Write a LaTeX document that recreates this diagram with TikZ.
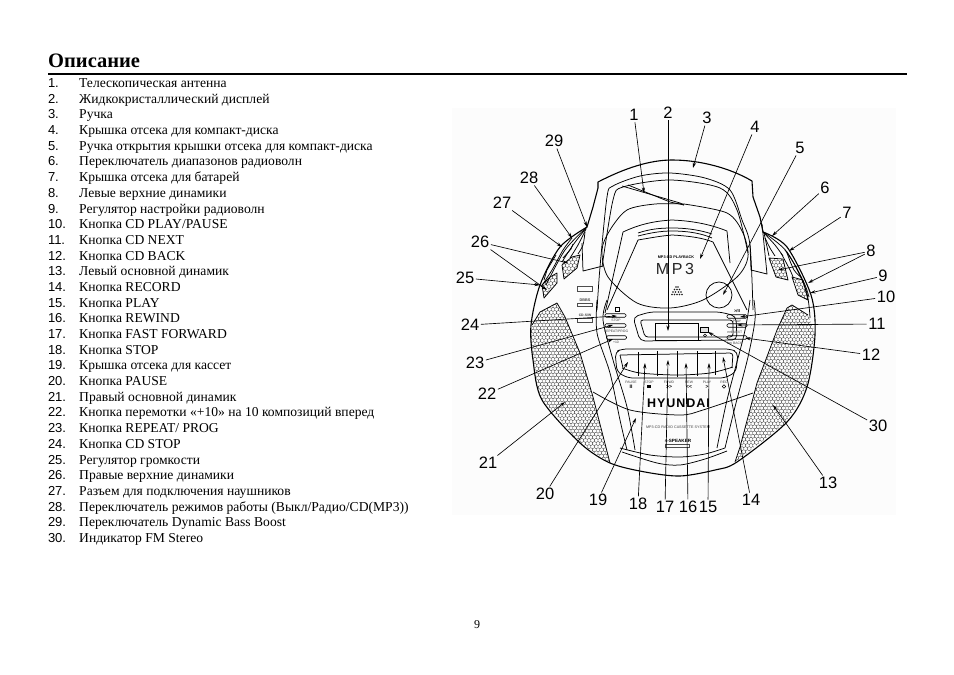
\documentclass[tikz,border=0pt]{standalone}
\usepackage{fontspec}
\setmainfont{Liberation Serif}
\newfontfamily\numfont{Liberation Sans}
\usetikzlibrary{arrows.meta,positioning}

\newcommand{\hexmesh}[4]{
	\foreach \r in {0,...,#4}{
		\foreach \c in {0,...,#3}{
			\pgfmathsetmacro\hx{#1+\c*3.6+mod(\r,2)*1.8}
			\pgfmathsetmacro\hy{#2+\r*3.12}
			\draw[meshline] ({\hx-1.8},{\hy-1.04}) -- (\hx,{\hy-2.08}) -- ({\hx+1.8},{\hy-1.04}) -- ({\hx+1.8},{\hy+1.04});
		}
	}
}

\begin{document}
\begin{tikzpicture}[x=1pt,y=-1pt,on grid,node distance=15.69pt,>={Stealth[length=5.5pt,width=3.2pt]},
	numlbl/.style={font=\numfont\fontsize{13}{14}\selectfont,inner sep=0pt,text width=24pt,align=left,text height=9pt,text depth=2pt},
	itemlbl/.style={font=\fontsize{13.6}{14}\selectfont,inner sep=0pt,anchor=west,text height=9pt,text depth=2pt},
	callout/.style={font=\numfont\fontsize{16.5}{18}\selectfont,inner sep=1.5pt},
	ptr/.style={->,line width=0.65pt},
	body/.style={line width=0.75pt,line join=round},
	thick body/.style={line width=1.1pt,line join=round},
	meshline/.style={line width=0.32pt,black!80},
	bar/.style={draw,line width=0.65pt,rounded corners=1.2pt},
	tiny/.style={font=\numfont\fontsize{3.4}{4}\selectfont,inner sep=0pt,black!75}]
	\useasboundingbox (0,0) rectangle (954,675);
	\fill[black!1] (452,108) rectangle (896,515);

	% heading
	\node[font=\bfseries\fontsize{20.5}{22}\selectfont,inner sep=0pt,anchor=base west] (title) at (48,67.5) {Описание};
	\coordinate (ruleL) at (48,74);
	\coordinate (ruleR) at (907,74);
	\draw[line width=1.8pt] (ruleL) -- (ruleR);

	% list
	\node[numlbl] (n1) at (60,84) {1.};
	\node[numlbl] (n2) [below=of n1] {2.};
	\node[numlbl] (n3) [below=of n2] {3.};
	\node[numlbl] (n4) [below=of n3] {4.};
	\node[numlbl] (n5) [below=of n4] {5.};
	\node[numlbl] (n6) [below=of n5] {6.};
	\node[numlbl] (n7) [below=of n6] {7.};
	\node[numlbl] (n8) [below=of n7] {8.};
	\node[numlbl] (n9) [below=of n8] {9.};
	\node[numlbl] (n10) [below=of n9] {10.};
	\node[numlbl] (n11) [below=of n10] {11.};
	\node[numlbl] (n12) [below=of n11] {12.};
	\node[numlbl] (n13) [below=of n12] {13.};
	\node[numlbl] (n14) [below=of n13] {14.};
	\node[numlbl] (n15) [below=of n14] {15.};
	\node[numlbl] (n16) [below=of n15] {16.};
	\node[numlbl] (n17) [below=of n16] {17.};
	\node[numlbl] (n18) [below=of n17] {18.};
	\node[numlbl] (n19) [below=of n18] {19.};
	\node[numlbl] (n20) [below=of n19] {20.};
	\node[numlbl] (n21) [below=of n20] {21.};
	\node[numlbl] (n22) [below=of n21] {22.};
	\node[numlbl] (n23) [below=of n22] {23.};
	\node[numlbl] (n24) [below=of n23] {24.};
	\node[numlbl] (n25) [below=of n24] {25.};
	\node[numlbl] (n26) [below=of n25] {26.};
	\node[numlbl] (n27) [below=of n26] {27.};
	\node[numlbl] (n28) [below=of n27] {28.};
	\node[numlbl] (n29) [below=of n28] {29.};
	\node[numlbl] (n30) [below=of n29] {30.};
	\node (t1) [right=19pt of n1,itemlbl] {Телескопическая антенна};
	\node (t2) [right=19pt of n2,itemlbl] {Жидкокристаллический дисплей};
	\node (t3) [right=19pt of n3,itemlbl] {Ручка};
	\node (t4) [right=19pt of n4,itemlbl] {Крышка отсека для компакт-диска};
	\node (t5) [right=19pt of n5,itemlbl] {Ручка открытия крышки отсека для компакт-диска};
	\node (t6) [right=19pt of n6,itemlbl] {Переключатель диапазонов радиоволн};
	\node (t7) [right=19pt of n7,itemlbl] {Крышка отсека для батарей};
	\node (t8) [right=19pt of n8,itemlbl] {Левые верхние динамики};
	\node (t9) [right=19pt of n9,itemlbl] {Регулятор настройки радиоволн};
	\node (t10) [right=19pt of n10,itemlbl] {Кнопка CD PLAY/PAUSE};
	\node (t11) [right=19pt of n11,itemlbl] {Кнопка CD NEXT};
	\node (t12) [right=19pt of n12,itemlbl] {Кнопка CD BACK};
	\node (t13) [right=19pt of n13,itemlbl] {Левый основной динамик};
	\node (t14) [right=19pt of n14,itemlbl] {Кнопка RECORD};
	\node (t15) [right=19pt of n15,itemlbl] {Кнопка PLAY};
	\node (t16) [right=19pt of n16,itemlbl] {Кнопка REWIND};
	\node (t17) [right=19pt of n17,itemlbl] {Кнопка FAST FORWARD};
	\node (t18) [right=19pt of n18,itemlbl] {Кнопка STOP};
	\node (t19) [right=19pt of n19,itemlbl] {Крышка отсека для кассет};
	\node (t20) [right=19pt of n20,itemlbl] {Кнопка PAUSE};
	\node (t21) [right=19pt of n21,itemlbl] {Правый основной динамик};
	\node (t22) [right=19pt of n22,itemlbl] {Кнопка перемотки «+10» на 10 композиций вперед};
	\node (t23) [right=19pt of n23,itemlbl] {Кнопка REPEAT/ PROG};
	\node (t24) [right=19pt of n24,itemlbl] {Кнопка CD STOP};
	\node (t25) [right=19pt of n25,itemlbl] {Регулятор громкости};
	\node (t26) [right=19pt of n26,itemlbl] {Правые верхние динамики};
	\node (t27) [right=19pt of n27,itemlbl] {Разъем для подключения наушников};
	\node (t28) [right=19pt of n28,itemlbl] {Переключатель режимов работы (Выкл/Радио/CD(MP3))};
	\node (t29) [right=19pt of n29,itemlbl] {Переключатель Dynamic Bass Boost};
	\node (t30) [right=19pt of n30,itemlbl] {Индикатор FM Stereo};

	\node[font=\fontsize{12}{14}\selectfont,inner sep=0pt] (pagenum) at (477,625) {9};

	% speakers
	\begin{scope}
		\clip (557,303) -- (565,317) -- (580,353) -- (593,397) -- (610,463) -- (580,443) -- (540,397) -- (530,340) -- (532,325) -- (540,312) -- cycle;
		\hexmesh{526}{300}{24}{53}
	\end{scope}
	\begin{scope}
		\clip (787,308) -- (792,305) -- (808,315) -- (815,333) -- (807,387) -- (787,422) -- (735,462) -- (740,447) -- (757,383) -- (777,330) -- cycle;
		\hexmesh{733}{302}{24}{53}
	\end{scope}
	\begin{scope}
		\clip (562,265) -- (572,257) -- (580,255) -- (577,268) -- (564,279) -- cycle;
		\hexmesh{560}{253}{6}{9}
	\end{scope}
	\begin{scope}
		\clip (542,285) -- (550,277) -- (557,273) -- (557,283) -- (544,298) -- cycle;
		\hexmesh{540}{271}{6}{9}
	\end{scope}
	\begin{scope}
		\clip (769,258) -- (783,259) -- (788,280) -- (776,277) -- cycle;
		\hexmesh{767}{256}{7}{9}
	\end{scope}
	\begin{scope}
		\clip (792,277) -- (803,280) -- (808,300) -- (798,295) -- cycle;
		\hexmesh{790}{275}{6}{9}
	\end{scope}
	\draw[body] (557,303) -- (565,317) -- (580,353) -- (593,397) -- (610,463);
	\draw[body] (557,303) -- (540,312) -- (532,325);
	\draw[body] (787,308) -- (792,305) -- (808,315);
	\draw[body] (787,308) -- (777,330) -- (757,383) -- (740,447) -- (735,462);
	\draw[body] (562,265) -- (572,257) -- (580,255) -- (577,268) -- (564,279) -- cycle;
	\draw[body] (542,285) -- (550,277) -- (557,273) -- (557,283) -- (544,298) -- cycle;
	\draw[body] (769,258) -- (783,259) -- (788,280) -- (776,277) -- cycle;
	\draw[body] (792,277) -- (803,280) -- (808,300) -- (798,295) -- cycle;

	% outer body
	\draw[thick body] plot[smooth] coordinates {(587,227) (560,247) (540,285) (531,325) (533,360) (542,400) (580,443) (610,463) (645,472) (680,476) (715,470) (737,462) (787,422) (807,387) (815,335) (811,295) (787,247) (763,232)};
	\draw[body] plot[smooth] coordinates {(587,227) (565,250) (546,285)};
	\draw[body] plot[smooth] coordinates {(763,232) (787,252) (806,290) (810,318)};
	% top grilles
	\draw[body] plot[smooth] coordinates {(587,227) (573,245) (562,262)};
	\draw[body] plot[smooth] coordinates {(586,229) (578,245) (570,258)};
	\draw[body] plot[smooth] coordinates {(585,232) (583,245) (578,254)};
	\draw[body] plot[smooth] coordinates {(572,238) (563,250) (552,270) (541,287)};
	\draw[body] (573,244) -- (571,249) -- (563,258);
	\draw[body] (556,255) -- (547,270) -- (544,280);
	\draw[body] plot[smooth] coordinates {(763,232) (775,245) (783,256)};
	\draw[body] plot[smooth] coordinates {(765,238) (770,248) (775,256)};
	\draw[body] (764,233) -- (769,256);
	\draw[body] plot[smooth] coordinates {(785,250) (795,265) (805,285) (809,297)};
	\draw[body] plot[smooth] coordinates {(787,253) (794,270) (802,278)};
	\draw[body] plot[smooth] coordinates {(781,253) (790,270) (793,277)};

	% handle
	\draw[thick body] (587,227) -- (593,207) -- (598,188) -- (598,182) .. controls (625,168) and (650,160) .. (672,160) .. controls (700,160) and (730,168) .. (752,181) -- (753,197) -- (760,217) -- (763,232);
	\draw[body] plot[smooth] coordinates {(597,310) (600,267) (607,197) (613,186) (640,176) (670,173) (705,178) (730,190) (742,220) (750,245) (753,310)};
	\draw[body] plot[smooth] coordinates {(602,267) (613,200) (623,187) (670,180) (720,188) (737,210) (748,253)};

	% left and right tabs beside the lid
	\draw[body] (582,243) -- (583,271) -- (603,266);
	\draw[body] (750,245) -- (751,270) -- (767,274) -- (762,224);

	% antenna
	\coordinate (antA) at (622,186);
	\coordinate (antB) at (680,203);
	\coordinate (antC) at (684,205);
	\draw[body] (antA) -- (antB) -- (antC);
	\draw[body] (628,185) -- (670,202) -- (684,205);

	% cd lid
	\draw[body] plot[smooth] coordinates {(684,204) (655,204) (627,210) (610,230) (602,250) (608,277) (637,303) (670,308) (703,300) (737,277) (748,257) (743,233) (727,213) (684,204)};
	\draw[body] (605,313) -- (623,232) .. controls (640,224) and (655,221) .. (672,220) .. controls (695,221) and (712,225) .. (727,231) -- (730,263);
	\draw[body] (607,310) -- (638,240) .. controls (650,238) and (660,236) .. (672,235) .. controls (690,236) and (703,238) .. (713,242) -- (747,310);
	\draw[body] (638,236) .. controls (650,233) and (660,231) .. (672,231) .. controls (690,231) and (703,234) .. (712,238);
	\draw[body] (638,233) .. controls (650,229) and (660,228) .. (672,228) .. controls (690,228) and (703,231) .. (712,234);
	\node[circle,draw,line width=0.75pt,minimum size=26pt,inner sep=0pt] (cdknob) at (719,295) {};
	\node[font=\numfont\bfseries\fontsize{3.8}{5}\selectfont,inner sep=0pt] (cdtag) at (676,257) {MP3-CD PLAYBACK};
	\node[font=\numfont\fontsize{16}{18}\selectfont,inner sep=0pt,black!85] (mp3tag) at (675,269) {M\,P\,3};
	\foreach \dx/\dy in {-1/-5,1/-5,-2.5/-2.5,0/-2.5,2.5/-2.5,-4/0,-1.5/0,1.5/0,4/0,-5/2.5,-2.5/2.5,0/2.5,2.5/2.5,5/2.5}
		\fill[black!90] (677+\dx,292+\dy) circle (0.9pt);

	% lower body lines
	\draw[body] plot[smooth] coordinates {(597,300) (597,333) (610,373) (620,420) (627,450)};
	\draw[body] plot[smooth] coordinates {(607,300) (603,320) (613,360) (627,407) (635,450)};
	\draw[body] plot[smooth] coordinates {(750,300) (747,320) (742,343) (727,400) (717,448)};
	\draw[body] plot[smooth] coordinates {(754,300) (755,320) (748,357) (735,407) (725,448)};
	\draw[body] plot[smooth] coordinates {(593,392) (630,410) (680,415) (703,410) (753,393)};
	\draw[body] plot[smooth] coordinates {(620,448) (650,455) (680,457) (705,454) (725,448)};
	\draw[body] plot[smooth] coordinates {(622,452) (657,463) (680,465) (705,459) (727,451)};

	% lcd frame
	\draw[body,rounded corners=5pt] (633,317) -- (650,312) -- (720,312) -- (736,316) -- (737,340) -- (640,341) -- cycle;
	\draw[body,rounded corners=3pt] (640,320) -- (733,320) -- (733,337) -- (645,337) -- cycle;
	\node[draw,line width=0.75pt,minimum width=43pt,minimum height=17pt,inner sep=0pt] (lcd) at (676.5,331.5) {};
	\node[draw,line width=0.6pt,fill=black!12,minimum width=8pt,minimum height=5pt,inner sep=0pt] (fmbox) at (704,329.5) {};
	\node[circle,draw,line width=0.5pt,minimum size=3pt,inner sep=0pt] (fmled) at (705,335.5) {};

	% tape door
	\draw[body,rounded corners=5pt] (615,352) -- (622,349) -- (730,349) -- (738,352) -- (736,372) -- (725,378) -- (628,378) -- (617,372) -- cycle;
	\draw[body,rounded corners=3pt] (620,355) -- (733,353) -- (732,368);
	\draw[body,rounded corners=3pt] (620,355) -- (623,368);
	\draw[body] plot[smooth] coordinates {(622,368) (640,373) (677,375) (710,373) (733,367)};
	\coordinate (d1t) at (638,352);
	\coordinate (d1b) at (638,376);
	\coordinate (d2t) at (657,351);
	\coordinate (d2b) at (657,376);
	\coordinate (d3t) at (677,351);
	\coordinate (d3b) at (677,377);
	\coordinate (d4t) at (697,351);
	\coordinate (d4b) at (697,376);
	\coordinate (d5t) at (715,351);
	\coordinate (d5b) at (715,375);
	\draw[body] (d1t) -- (d1b) (d2t) -- (d2b) (d3t) -- (d3b) (d4t) -- (d4b) (d5t) -- (d5b);
	\node[tiny] (kpause) at (631,382) {PAUSE};
	\node[tiny] (kstop) at (649,382) {STOP};
	\node[tiny] (kfwd) at (669,382) {F.FWD};
	\node[tiny] (krew) at (689,382) {REW};
	\node[tiny] (kplay) at (707,382) {PLAY};
	\node[tiny] (krec) at (724,382) {REC};
	\node[tiny,font=\numfont\bfseries\fontsize{5}{5}\selectfont,black] (ppause) at (631,386.5) {II};
	\node[fill=black,minimum width=3.2pt,minimum height=2.6pt,inner sep=0pt] (pstop) at (649,386.5) {};
	\node[tiny,font=\numfont\bfseries\fontsize{5}{5}\selectfont,black] (pfwd) at (669,386.5) {>>};
	\node[tiny,font=\numfont\bfseries\fontsize{5}{5}\selectfont,black] (prew) at (689,386.5) {<<};
	\node[tiny,font=\numfont\bfseries\fontsize{5}{5}\selectfont,black] (pplay) at (707,386.5) {>};
	\node[circle,draw,line width=0.6pt,minimum size=3.5pt,inner sep=0pt] (prec) at (724,386.5) {};

	% buttons
	\node[bar,minimum width=21pt,minimum height=3.4pt,inner sep=0pt] (bstop) at (615.5,315.5) {};
	\node[bar,minimum width=21pt,minimum height=3.4pt,inner sep=0pt] (brep) at (615.5,325.5) {};
	\node[bar,minimum width=20pt,minimum height=3.4pt,inner sep=0pt] (bten) at (616.5,337.5) {};
	\node[bar,minimum width=20pt,minimum height=3.4pt,inner sep=0pt] (bplay) at (737,316.5) {};
	\node[bar,minimum width=20pt,minimum height=3.4pt,inner sep=0pt] (bnext) at (737,325.5) {};
	\node[bar,minimum width=20pt,minimum height=3.4pt,inner sep=0pt] (bback) at (737,337.5) {};
	\node[draw,line width=0.6pt,minimum size=3.6pt,inner sep=0pt] (ksq) at (617,309) {};
	\node[tiny] (lstop) at (616,320.5) {STOP};
	\node[tiny] (lrep) at (616,331) {REPEAT/PROG};
	\node[tiny] (lten) at (616,342.5) {+10};
	\node[tiny,font=\numfont\bfseries\fontsize{4.2}{5}\selectfont,black] (lpl) at (737,311.5) {>/II};
	\node[tiny] (lpp) at (737,321) {PLAY};
	\node[tiny,anchor=west] (lnext) at (727,332.5) {{\bfseries >>I} NEXT};
	\node[tiny,anchor=west] (lback) at (727,343) {{\bfseries I<<} BACK};
	\node[draw,line width=0.4pt,black!70,minimum width=15pt,minimum height=5pt,inner sep=0pt] (s1) at (585,288.5) {};
	\node[draw,line width=0.4pt,black!70,minimum width=15pt,minimum height=3.5pt,inner sep=0pt] (s2) at (585,304.5) {};
	\node[draw,line width=0.4pt,black!70,minimum width=15pt,minimum height=3.5pt,inner sep=0pt] (s3) at (585,320) {};
	\node[tiny,font=\numfont\bfseries\fontsize{3.8}{5}\selectfont] (ldbbs) at (585,300.5) {DBBS};
	\node[tiny,font=\numfont\bfseries\fontsize{3.4}{5}\selectfont] (lcdsw) at (585,315.5) {CD-S/W};

	% front
	\node[font=\numfont\bfseries\fontsize{12.5}{13}\selectfont,inner sep=0pt] (brand) at (678.5,403) {\addfontfeature{LetterSpace=8}HYUNDAI};
	\node[tiny,font=\numfont\fontsize{3.7}{4}\selectfont] (sysname) at (678,427.5) {MP3-CD RADIO CASSETTE SYSTEM};
	\node[tiny,font=\numfont\bfseries\fontsize{4.6}{5}\selectfont,black] (spk) at (678,441) {4-SPEAKER};
	\node[draw,line width=0.4pt,black!70,minimum width=24pt,minimum height=3.5pt,inner sep=0pt] (spkbox) at (677,445.5) {};

	% callouts
	\node[callout] (c1) at (634,115) {1};
	\node[callout] (c2) at (668,113) {2};
	\node[callout] (c3) at (707,118) {3};
	\node[callout] (c4) at (755,127) {4};
	\node[callout] (c5) at (800,148) {5};
	\node[callout] (c6) at (825,188) {6};
	\node[callout] (c7) at (847,213) {7};
	\node[callout] (c8) at (871,251) {8};
	\node[callout] (c9) at (883,276) {9};
	\node[callout] (c10) at (886,297) {10};
	\node[callout] (c11) at (877,324) {11};
	\node[callout] (c12) at (871,355) {12};
	\node[callout] (c13) at (828,483) {13};
	\node[callout] (c14) at (751,500) {14};
	\node[callout] (c15) at (708,507) {15};
	\node[callout] (c16) at (688,507) {16};
	\node[callout] (c17) at (665,507) {17};
	\node[callout] (c18) at (638,504) {18};
	\node[callout] (c19) at (598,500) {19};
	\node[callout] (c20) at (545,494) {20};
	\node[callout] (c21) at (488,463) {21};
	\node[callout] (c22) at (487,394) {22};
	\node[callout] (c23) at (475,363) {23};
	\node[callout] (c24) at (470,325) {24};
	\node[callout] (c25) at (465,278) {25};
	\node[callout] (c26) at (480,242) {26};
	\node[callout] (c27) at (502,203) {27};
	\node[callout] (c28) at (529,178) {28};
	\node[callout] (c29) at (554,141) {29};
	\node[callout] (c30) at (878,426) {30};
	\coordinate (p1) at (644,193);
	\coordinate (p2) at (668,331);
	\coordinate (p3) at (693,168);
	\coordinate (p4) at (700,259);
	\coordinate (p5) at (723,295);
	\coordinate (p6) at (772,236);
	\coordinate (p7) at (789,251);
	\coordinate (p8a) at (778,270);
	\coordinate (p8b) at (808,283);
	\coordinate (p9) at (810,293);
	\coordinate (p10) at (740,317);
	\coordinate (p11) at (737,325);
	\coordinate (p12) at (745,338);
	\coordinate (p13) at (773,405);
	\coordinate (p14) at (723,357);
	\coordinate (p15) at (709,363);
	\coordinate (p16) at (686,363);
	\coordinate (p17) at (668,360);
	\coordinate (p18) at (645,363);
	\coordinate (p19) at (636,418);
	\coordinate (p20) at (628,362);
	\coordinate (p21) at (565,402);
	\coordinate (p22) at (613,339);
	\coordinate (p23) at (613,325);
	\coordinate (p24) at (617,316);
	\coordinate (p25) at (540,285);
	\coordinate (p26a) at (568,263);
	\coordinate (p26b) at (547,290);
	\coordinate (p27) at (562,247);
	\coordinate (p28) at (572,238);
	\coordinate (p29) at (587,227);
	\coordinate (p30) at (708,332);
	\path[ptr]
	(c1) edge (p1)
	(c2) edge (p2)
	(c3) edge (p3)
	(c4) edge (p4)
	(c5) edge (p5)
	(c6) edge (p6)
	(c7) edge (p7)
	(c8) edge (p8a)
		edge (p8b)
	(c9) edge (p9)
	(c10) edge (p10)
	(c11) edge (p11)
	(c12) edge (p12)
	(c13) edge (p13)
	(c14) edge (p14)
	(c15) edge (p15)
	(c16) edge (p16)
	(c17) edge (p17)
	(c18) edge (p18)
	(c19) edge (p19)
	(c20) edge (p20)
	(c21) edge (p21)
	(c22) edge (p22)
	(c23) edge (p23)
	(c24) edge (p24)
	(c25) edge (p25)
	(c26) edge (p26a)
		edge (p26b)
	(c27) edge (p27)
	(c28) edge (p28)
	(c29) edge (p29)
	(c30) edge (p30)
	;
\end{tikzpicture}
\end{document}
